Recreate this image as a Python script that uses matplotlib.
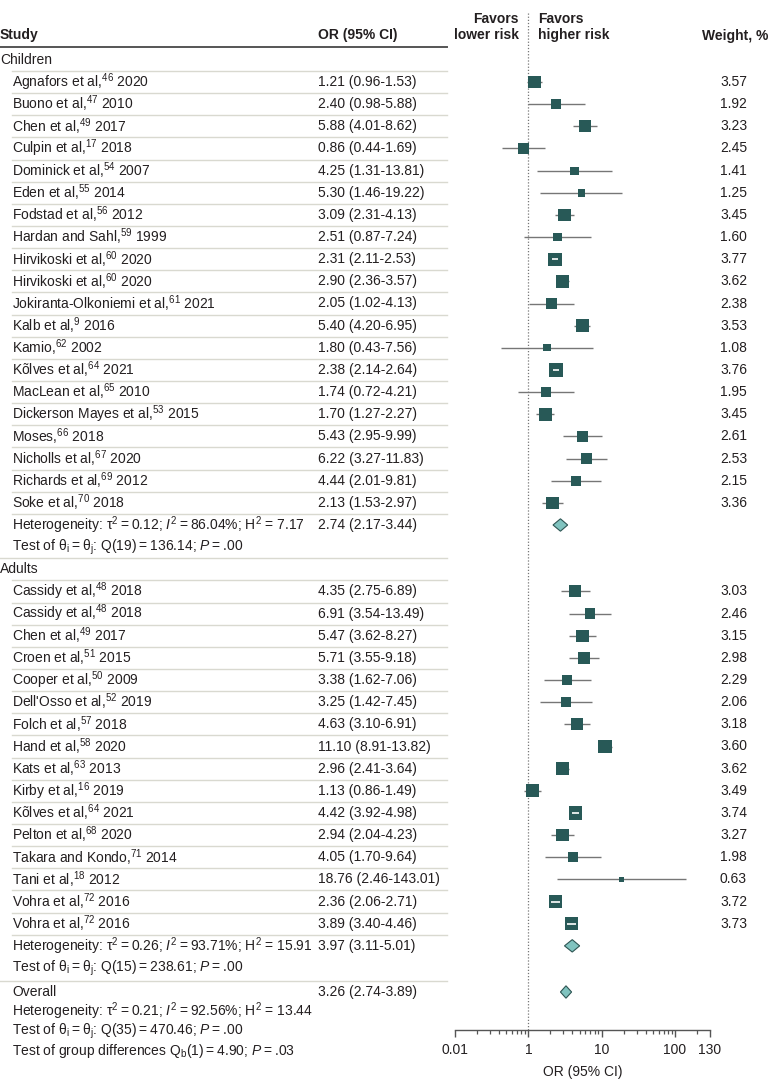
import numpy as np
import matplotlib
matplotlib.use("Agg")
import matplotlib.pyplot as plt
from matplotlib import transforms

plt.rcParams.update({
    "font.family": ["Liberation Sans", "DejaVu Sans"],
    "font.size": 10,
    "mathtext.fontset": "custom",
    "mathtext.rm": "Liberation Sans",
    "mathtext.it": "Liberation Sans:italic",
    "mathtext.bf": "Liberation Sans:bold",
})

# ── data ────────────────────────────────────────────────────────────────
child_names = ["Agnafors et al", "Buono et al", "Chen et al", "Culpin et al",
               "Dominick et al", "Eden et al", "Fodstad et al", "Hardan and Sahl",
               "Hirvikoski et al", "Hirvikoski et al", "Jokiranta-Olkoniemi et al",
               "Kalb et al", "Kamio", "Kõlves et al", "MacLean et al",
               "Dickerson Mayes et al", "Moses", "Nicholls et al", "Richards et al",
               "Soke et al"]
child_refs = [46, 47, 49, 17, 54, 55, 56, 59, 60, 60, 61, 9, 62, 64, 65, 53, 66, 67, 69, 70]
child_years = [2020, 2010, 2017, 2018, 2007, 2014, 2012, 1999, 2020, 2020, 2021,
               2016, 2002, 2021, 2010, 2015, 2018, 2020, 2012, 2018]
child_or = [1.21, 2.40, 5.88, 0.86, 4.25, 5.30, 3.09, 2.51, 2.31, 2.90, 2.05,
            5.40, 1.80, 2.38, 1.74, 1.70, 5.43, 6.22, 4.44, 2.13]
child_lo = [0.96, 0.98, 4.01, 0.44, 1.31, 1.46, 2.31, 0.87, 2.11, 2.36, 1.02,
            4.20, 0.43, 2.14, 0.72, 1.27, 2.95, 3.27, 2.01, 1.53]
child_hi = [1.53, 5.88, 8.62, 1.69, 13.81, 19.22, 4.13, 7.24, 2.53, 3.57, 4.13,
            6.95, 7.56, 2.64, 4.21, 2.27, 9.99, 11.83, 9.81, 2.97]
child_w = [3.57, 1.92, 3.23, 2.45, 1.41, 1.25, 3.45, 1.60, 3.77, 3.62, 2.38,
           3.53, 1.08, 3.76, 1.95, 3.45, 2.61, 2.53, 2.15, 3.36]
child_pool = (2.74, 2.17, 3.44)
child_het = ("0.12", "86.04", "7.17")
child_q = ("19", "136.14", ".00")

adult_names = ["Cassidy et al", "Cassidy et al", "Chen et al", "Croen et al",
               "Cooper et al", "Dell'Osso et al", "Folch et al", "Hand et al",
               "Kats et al", "Kirby et al", "Kõlves et al", "Pelton et al",
               "Takara and Kondo", "Tani et al", "Vohra et al", "Vohra et al"]
adult_refs = [48, 48, 49, 51, 50, 52, 57, 58, 63, 16, 64, 68, 71, 18, 72, 72]
adult_years = [2018, 2018, 2017, 2015, 2009, 2019, 2018, 2020, 2013, 2019,
               2021, 2020, 2014, 2012, 2016, 2016]
adult_or = [4.35, 6.91, 5.47, 5.71, 3.38, 3.25, 4.63, 11.10, 2.96, 1.13,
            4.42, 2.94, 4.05, 18.76, 2.36, 3.89]
adult_lo = [2.75, 3.54, 3.62, 3.55, 1.62, 1.42, 3.10, 8.91, 2.41, 0.86,
            3.92, 2.04, 1.70, 2.46, 2.06, 3.40]
adult_hi = [6.89, 13.49, 8.27, 9.18, 7.06, 7.45, 6.91, 13.82, 3.64, 1.49,
            4.98, 4.23, 9.64, 143.01, 2.71, 4.46]
adult_w = [3.03, 2.46, 3.15, 2.98, 2.29, 2.06, 3.18, 3.60, 3.62, 3.49,
           3.74, 3.27, 1.98, 0.63, 3.72, 3.73]
adult_pool = (3.97, 3.11, 5.01)
adult_het = ("0.26", "93.71", "15.91")
adult_q = ("15", "238.61", ".00")

overall_pool = (3.26, 2.74, 3.89)
overall_het = ("0.21", "92.56", "13.44")
overall_q = ("35", "470.46", ".00")
group_q = ("1", "4.90", ".03")

tick_vals = [0.1, 1, 10, 100, 300]
tick_labels = ["0.01", "1", "10", "100", "130"]

# ── layout (pixel units, figure is 780 x 1087) ─────────────────────────
W, H = 780, 1087
Y0, P = 82, 22.15
AX_L, AX_R, AX_B = 455, 710, 1030
X_STUDY, X_IND, X_OR, X_W = 0, 12, 318, 720
SEP_R = 447
TS = "\u2009"  # thin space

C_TXT = "#231f20"
C_SQ = "#285957"
C_DIA = "#80c3bf"
C_DIA_E = "#2e5553"
C_CI = "#767676"
C_SEP = "#d9d9d0"

fig = plt.figure(figsize=(W / 100, H / 100), dpi=100)
ax = fig.add_axes([AX_L / W, (H - AX_B) / H, (AX_R - AX_L) / W, AX_B / H])
ax.set_xscale("log")
ax.set_xlim(tick_vals[0], tick_vals[-1])
ax.set_ylim(AX_B, 0)
ax.patch.set_alpha(0)
for s in ("left", "right", "top"):
    ax.spines[s].set_visible(False)
ax.spines["bottom"].set_color("#555555")
ax.spines["bottom"].set_linewidth(1.0)
ax.set_yticks([])
ax.set_xticks(tick_vals)
ax.set_xticklabels(tick_labels)
minors = [m * d for d in (0.1, 1, 10) for m in range(2, 10)] + [200]
ax.set_xticks(minors, minor=True)
ax.xaxis.set_minor_formatter(plt.NullFormatter())
ax.tick_params(axis="x", which="major", length=5, width=1.0, color="#555555",
               labelsize=10, labelcolor=C_TXT, pad=4)
ax.tick_params(axis="x", which="minor", length=3, width=0.9, color="#555555")
ax.set_xlabel("OR (95% CI)", fontsize=10, color=C_TXT, labelpad=6)

tr = transforms.blended_transform_factory(fig.transFigure, ax.transData)


def txt(x, y, s, **kw):
    kw.setdefault("color", C_TXT)
    kw.setdefault("va", "center")
    ax.text(x / W, y, s, transform=tr, clip_on=False, **kw)


def sep(y, x0=X_IND, color=C_SEP, lw=1.0):
    ax.add_line(plt.Line2D([x0 / W, SEP_R / W], [y, y], transform=tr,
                           color=color, lw=lw, clip_on=False))


def row_y(i):
    return Y0 + i * P


def het_text(het):
    return (f"Heterogeneity: τ$^2${TS}={TS}{het[0]}; $I^2${TS}={TS}{het[1]}%; "
            f"H$^2$ = {het[2]}")


def q_text(q):
    return (f"Test of θ$_\\mathrm{{i}}${TS}={TS}θ$_\\mathrm{{j}}$: "
            f"Q({q[0]}){TS}={TS}{q[1]}; $P${TS}={TS}{q[2]}")


# reference line at OR = 1
ax.plot([1, 1], [13, AX_B], color="#777777", lw=0.9, ls=(0, (1, 1.5)), zorder=1)

# headers
txt(X_STUDY, 35, "Study", fontweight="bold")
txt(X_OR, 35, "OR (95% CI)", fontweight="bold")
txt(519, 27, "Favors\nlower risk", fontweight="bold", ha="right", linespacing=1.25)
txt(538, 27, "Favors\nhigher risk", fontweight="bold", ha="left", linespacing=1.25)
txt(702, 36, "Weight, %", fontweight="bold")
sep(47, x0=0, color="#555555", lw=1.4)


def diamond(pool, y, h=6.2):
    est, lo, hi = pool
    ax.fill([lo, est, hi, est], [y, y - h, y, y + h], facecolor=C_DIA,
            edgecolor=C_DIA_E, lw=0.8, zorder=3)


def study_block(start, label, names, refs, years, ors, los, his, ws, pool, het, q):
    txt(X_STUDY, row_y(start - 1), label)
    sep(row_y(start - 0.5))
    n = len(names)
    ys = [row_y(start + i) for i in range(n)]
    for i in range(n):
        y = ys[i]
        txt(X_IND, y, f"{names[i]},$^{{{refs[i]}}}$ {years[i]}")
        txt(X_OR, y, f"{ors[i]:.2f} ({los[i]:.2f}-{his[i]:.2f})")
        txt(X_W, y, f"{ws[i]:.2f}")
        sep(y + P / 2)
    ax.hlines(ys, los, his, color=C_CI, lw=1.0, zorder=2)
    ax.scatter(ors, ys, s=[24.5 * w for w in ws], marker="s", color=C_SQ,
               edgecolors="none", zorder=3)
    # narrow CIs show through the box in white
    for i in range(n):
        if his[i] / los[i] < 1.4:
            ax.hlines(ys[i], los[i], his[i], color="white", lw=1.2, zorder=4)
    yh = row_y(start + n)
    diamond(pool, yh)
    txt(X_IND, yh, het_text(het))
    txt(X_OR, yh, f"{pool[0]:.2f} ({pool[1]:.2f}-{pool[2]:.2f})")
    txt(X_IND, row_y(start + n + 1), q_text(q))
    return start + n + 2


nxt = study_block(0, "Children", child_names, child_refs, child_years,
                  child_or, child_lo, child_hi, child_w, child_pool, child_het, child_q)
sep(558, x0=0)
nxt = study_block(nxt + 1, "Adults", adult_names, adult_refs, adult_years,
                  adult_or, adult_lo, adult_hi, adult_w, adult_pool, adult_het, adult_q)
sep(981, x0=0)

# overall
yo = 992
diamond(overall_pool, yo)
txt(X_IND, yo, "Overall")
txt(X_OR, yo, f"{overall_pool[0]:.2f} ({overall_pool[1]:.2f}-{overall_pool[2]:.2f})")
txt(X_IND, 1011, het_text(overall_het))
txt(X_IND, 1031, q_text(overall_q))
txt(X_IND, 1051, f"Test of group differences Q$_\\mathrm{{b}}$({group_q[0]}){TS}={TS}"
                 f"{group_q[1]}; $P${TS}={TS}{group_q[2]}")

fig.savefig("out.png", dpi=100)
